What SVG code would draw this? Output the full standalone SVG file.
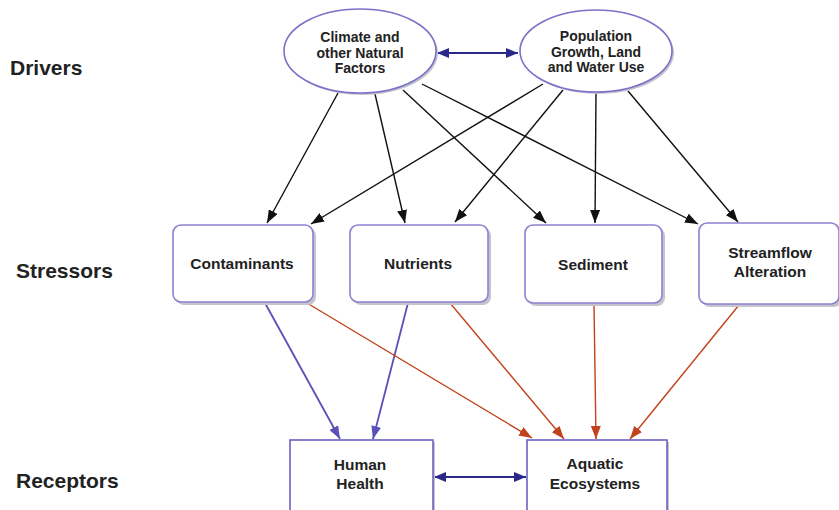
<svg xmlns="http://www.w3.org/2000/svg" width="839" height="510" viewBox="0 0 839 510">
<defs>
<style>
.lbl{font-family:"Liberation Sans",Arial,sans-serif;font-weight:bold;fill:#222;}
.row{font-size:21px;}
.nt{font-size:15.5px;text-anchor:middle;}
.et{font-size:14px;text-anchor:middle;}
.ell{fill:#fff;stroke:#7a72c8;stroke-width:1.6;}
.box{fill:#fff;stroke:#8a82d2;stroke-width:1.6;}
.rbox{fill:#fff;stroke:#6a62c2;stroke-width:1.6;}
.sh{fill:#c4c4cc;}
.blk{stroke:#111;stroke-width:1.4;fill:none;marker-end:url(#ab);}
.pur{stroke:#5a50b8;stroke-width:1.8;fill:none;marker-end:url(#ap);}
.red{stroke:#c2421c;stroke-width:1.4;fill:none;marker-end:url(#ar);}
.dbl{stroke:#2c2888;stroke-width:2.2;fill:none;marker-end:url(#ad);marker-start:url(#ad);}
</style>
<marker id="ab" markerUnits="userSpaceOnUse" markerWidth="14" markerHeight="10" refX="13" refY="5" orient="auto"><path d="M0,0 L13,5 L0,10 z" fill="#111"/></marker>
<marker id="ap" markerUnits="userSpaceOnUse" markerWidth="14" markerHeight="10" refX="13" refY="5" orient="auto"><path d="M0,0 L13,5 L0,10 z" fill="#5a50b8"/></marker>
<marker id="ar" markerUnits="userSpaceOnUse" markerWidth="14" markerHeight="10" refX="13" refY="5" orient="auto"><path d="M0,0 L13,5 L0,10 z" fill="#c2421c"/></marker>
<marker id="ad" markerUnits="userSpaceOnUse" markerWidth="13" markerHeight="10" refX="12" refY="5" orient="auto-start-reverse"><path d="M0,0 L12,5 L0,10 z" fill="#2c2888"/></marker>
</defs>
<rect width="839" height="510" fill="#fff"/>

<text class="lbl row" x="10" y="75">Drivers</text>
<text class="lbl row" x="16" y="278">Stressors</text>
<text class="lbl row" x="16" y="488">Receptors</text>

<g id="connectors">
<line class="blk" x1="338" y1="93" x2="267" y2="223"/>
<line class="blk" x1="375" y1="94" x2="405" y2="223"/>
<line class="blk" x1="403" y1="90" x2="546" y2="223"/>
<line class="blk" x1="422" y1="84" x2="698" y2="224"/>
<line class="blk" x1="543" y1="84" x2="311" y2="224"/>
<line class="blk" x1="563" y1="90" x2="455" y2="222"/>
<line class="blk" x1="596" y1="93" x2="595" y2="223"/>
<line class="blk" x1="628" y1="91" x2="738" y2="222"/>
<line class="pur" x1="265" y1="303" x2="340" y2="439"/>
<line class="pur" x1="408" y1="303" x2="373" y2="439"/>
<line class="red" x1="307" y1="303" x2="532" y2="438"/>
<line class="red" x1="450" y1="303" x2="564" y2="439"/>
<line class="red" x1="594" y1="304" x2="596" y2="439"/>
<line class="red" x1="739" y1="305" x2="630" y2="439"/>
<line class="dbl" x1="437" y1="53" x2="518" y2="53"/>
<line class="dbl" x1="434" y1="477" x2="526" y2="477"/>
</g>

<g id="climate">
<ellipse class="sh" cx="362" cy="53" rx="76" ry="42"/>
<ellipse class="ell" cx="360" cy="51" rx="76" ry="42"/>
<text class="lbl et" x="360" y="42">Climate and</text>
<text class="lbl et" x="360" y="58">other Natural</text>
<text class="lbl et" x="360" y="73">Factors</text>
</g>
<g id="population">
<ellipse class="sh" cx="598" cy="53" rx="76" ry="41"/>
<ellipse class="ell" cx="596" cy="51" rx="76" ry="41"/>
<text class="lbl et" x="596" y="41">Population</text>
<text class="lbl et" x="596" y="57">Growth, Land</text>
<text class="lbl et" x="596" y="72">and Water Use</text>
</g>

<g id="contaminants">
<rect class="sh" x="176" y="228" width="140" height="77" rx="8"/>
<rect class="box" x="173" y="225" width="140" height="77" rx="8"/>
<text class="lbl nt" x="242" y="269">Contaminants</text>
</g>
<g id="nutrients">
<rect class="sh" x="353" y="228" width="138" height="77" rx="8"/>
<rect class="box" x="350" y="225" width="138" height="77" rx="8"/>
<text class="lbl nt" x="418" y="269">Nutrients</text>
</g>
<g id="sediment">
<rect class="sh" x="528" y="228" width="137" height="78" rx="8"/>
<rect class="box" x="525" y="225" width="137" height="78" rx="8"/>
<text class="lbl nt" x="593" y="270">Sediment</text>
</g>
<g id="streamflow">
<rect class="sh" x="702" y="226" width="140" height="81" rx="8"/>
<rect class="box" x="699" y="223" width="140" height="81" rx="8"/>
<text class="lbl nt" x="770" y="258">Streamflow</text>
<text class="lbl nt" x="770" y="277">Alteration</text>
</g>

<g id="human">
<rect class="sh" x="292" y="442" width="143" height="80"/>
<rect class="rbox" x="290" y="440" width="143" height="80"/>
<text class="lbl nt" x="360" y="470">Human</text>
<text class="lbl nt" x="360" y="489">Health</text>
</g>
<g id="aquatic">
<rect class="sh" x="529" y="442" width="140" height="80"/>
<rect class="rbox" x="527" y="440" width="140" height="80"/>
<text class="lbl nt" x="595" y="469">Aquatic</text>
<text class="lbl nt" x="595" y="489">Ecosystems</text>
</g>
</svg>
